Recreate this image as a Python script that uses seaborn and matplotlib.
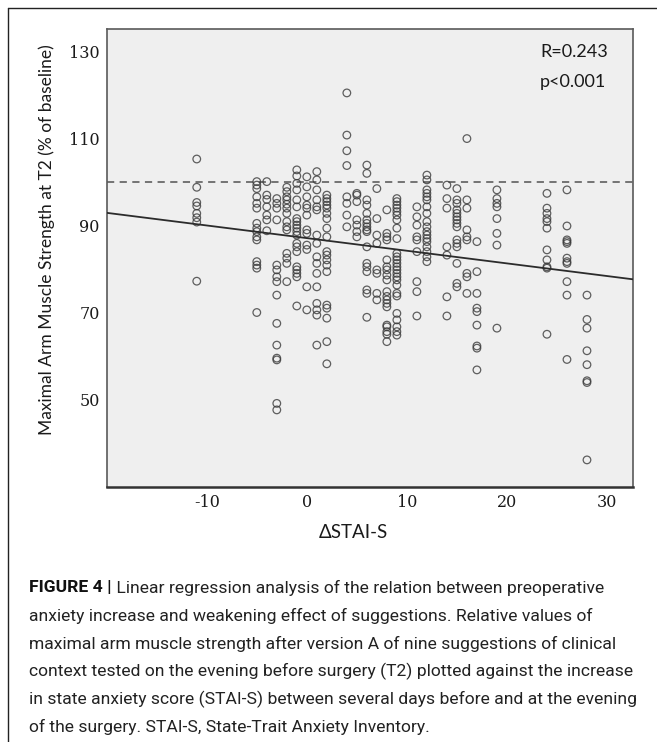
import numpy as np
import pandas as pd
import matplotlib
matplotlib.use("Agg")
import matplotlib.pyplot as plt
import seaborn as sns

# ---- data: ΔSTAI-S columns and strength values (% of baseline) ----
col_m11 = [105.3, 98.8, 95.3, 94.5, 92.8, 91.8, 90.8, 77.2]
col_m5 = [100.1, 99.3, 98.5, 96.6, 95.1, 94.0, 90.5, 89.4, 88.6, 87.4, 86.7, 81.7, 80.9, 80.2, 70.0]
col_m4 = [100.1, 97.0, 96.0, 94.3, 92.4, 91.3, 88.8]
col_m3 = [96.2, 95.1, 94.0, 91.3, 80.9, 79.8, 78.2, 77.1, 74.0, 67.5, 62.5, 59.5, 59.1, 49.1, 47.6]
col_m2 = [98.8, 97.8, 96.6, 95.9, 94.9, 94.0, 92.8, 90.9, 89.7, 89.0, 83.6, 82.5, 81.3, 77.1]
col_m1 = [102.8, 101.4, 99.7, 98.2, 95.9, 94.3, 91.6, 90.9, 90.1, 89.4, 88.6, 87.8, 85.9, 85.1, 84.0,
          80.5, 79.8, 79.0, 78.2, 71.5]
col_0 = [101.2, 98.9, 96.6, 94.7, 94.0, 92.4, 89.0, 88.2, 85.5, 84.5, 75.9, 70.6]
col_1 = [102.4, 100.5, 98.2, 95.9, 94.3, 93.6, 87.8, 85.9, 82.8, 81.3, 79.0, 75.9, 72.1, 70.6, 69.4, 62.5]
col_2 = [97.0, 96.2, 95.5, 94.7, 94.0, 92.8, 91.6, 89.4, 87.4, 84.0, 83.2, 82.1, 80.9, 79.4,
         71.7, 71.0, 68.7, 63.3, 58.2]
col_4 = [120.5, 110.8, 107.2, 103.8, 96.6, 95.1, 92.4, 89.7]
col_5 = [97.4, 97.0, 95.5, 91.3, 90.1, 88.6, 87.4]
col_6 = [103.9, 102.0, 95.9, 94.7, 92.8, 91.3, 90.5, 89.7, 89.0, 88.6, 85.1, 81.3, 80.5, 79.4,
         75.2, 74.4, 68.9]
col_7 = [98.5, 91.6, 87.8, 85.9, 79.8, 79.0, 74.4, 72.9]
col_8 = [93.6, 88.2, 87.4, 86.7, 82.1, 80.5, 79.8, 78.6, 77.5, 74.8, 73.7, 72.9, 72.1, 71.3,
         67.1, 66.7, 65.6, 65.0, 63.3]
col_9 = [96.2, 95.5, 94.7, 94.0, 93.2, 92.4, 91.3, 89.4, 87.0, 83.6, 82.8, 82.1, 81.3, 80.5, 79.8,
         79.0, 78.2, 77.5, 76.3, 74.4, 73.8, 69.8, 68.3, 66.7, 65.6, 64.8]
col_11 = [94.3, 92.0, 90.1, 87.4, 86.7, 84.0, 77.1, 74.8, 69.2]
col_12 = [101.6, 100.5, 98.2, 97.4, 96.6, 95.9, 94.3, 92.8, 90.9, 89.7, 88.6, 87.8, 87.0, 86.3,
          85.1, 84.0, 82.8, 81.7]
col_14 = [99.3, 96.2, 94.0, 85.1, 83.2, 73.6, 69.2]
col_15 = [98.5, 95.9, 95.1, 93.6, 92.8, 92.0, 91.3, 90.5, 89.7, 86.7, 85.9, 85.1, 81.3, 76.7, 75.9]
col_16 = [110.0, 95.9, 94.0, 89.0, 87.4, 86.7, 79.0, 78.2, 74.4]
col_17 = [86.3, 79.4, 74.4, 71.0, 70.2, 67.1, 62.3, 61.8, 56.8]
col_19 = [98.2, 96.2, 95.1, 94.3, 91.6, 88.2, 85.5, 66.4]
col_24 = [97.4, 94.0, 92.8, 91.6, 90.9, 89.4, 84.4, 82.1, 80.5, 80.2, 65.0]
col_26 = [98.2, 89.9, 86.7, 86.3, 85.9, 82.5, 81.7, 81.3, 77.1, 74.0, 59.2]
col_28 = [74.0, 68.4, 66.4, 61.2, 58.0, 54.3, 53.9, 36.1]

stai_levels = [-11, -5, -4, -3, -2, -1, 0, 1, 2, 4, 5, 6, 7, 8, 9, 11, 12, 14, 15, 16, 17, 19, 24, 26, 28]
strength_cols = [col_m11, col_m5, col_m4, col_m3, col_m2, col_m1, col_0, col_1, col_2, col_4, col_5,
                 col_6, col_7, col_8, col_9, col_11, col_12, col_14, col_15, col_16, col_17, col_19,
                 col_24, col_26, col_28]

x_ticks = [-10, 0, 10, 20, 30]
y_ticks = [50, 70, 90, 110, 130]
baseline_ref = 100
stats_text = ["R=0.243", "p<0.001"]
x_label = "\u0394STAI-S"
y_label = "Maximal Arm Muscle Strength at T2 (% of baseline)"
caption_bold = "FIGURE 4 |"
caption_lines = [
    " Linear regression analysis of the relation between preoperative",
    "anxiety increase and weakening effect of suggestions. Relative values of",
    "maximal arm muscle strength after version A of nine suggestions of clinical",
    "context tested on the evening before surgery (T2) plotted against the increase",
    "in state anxiety score (STAI-S) between several days before and at the evening",
    "of the surgery. STAI-S, State-Trait Anxiety Inventory.",
]

rows = []
for lvl, vals in zip(stai_levels, strength_cols):
    for v in vals:
        rows.append((lvl, v))
df = pd.DataFrame(rows, columns=["dstai", "strength"])

# ---- figure ----
sns.set_theme(style="white")
plt.rcParams["font.family"] = ["Lato", "DejaVu Sans"]

W, H = 657, 742
fig = plt.figure(figsize=(W / 100, H / 100), dpi=100)
ax = fig.add_axes([106.7 / W, 1 - 487.3 / H, (633 - 106.7) / W, (487.3 - 29) / H])
ax.set_facecolor("#efefef")

ax.set_xlim(-20, 32.6)
ax.set_ylim(29.8, 135.2)

sns.scatterplot(data=df, x="dstai", y="strength", ax=ax, s=30, marker="o",
                fc="none", ec="#3a3a3a", linewidth=0.9, alpha=0.8, zorder=3)
sns.regplot(data=df, x="dstai", y="strength", ax=ax, scatter=False, ci=None,
            truncate=False, line_kws=dict(color="#2b2b2b", lw=1.3, zorder=4))
ax.axhline(baseline_ref, color="#6a6a6a", lw=1.3, ls=(0, (4, 3)), zorder=2)

ax.set_xticks(x_ticks)
ax.set_yticks(y_ticks)
ax.set_xticklabels([str(t) for t in x_ticks], fontfamily="DejaVu Serif", fontsize=11.5)
ax.set_yticklabels([str(t) for t in y_ticks], fontfamily="DejaVu Serif", fontsize=11.5)
ax.tick_params(axis="both", direction="out", length=3, width=1, color="#555555",
               labelcolor="#1a1a1a", pad=2)
ax.set_xlabel("")
ax.set_ylabel("")
for side in ["left", "bottom", "right", "top"]:
    ax.spines[side].set_color("#5a5a5a")
    ax.spines[side].set_linewidth(1.2)
ax.spines["bottom"].set_color("#333333")
ax.spines["bottom"].set_linewidth(1.8)

ax.text(540 / W, 1 - 52 / H, stats_text[0], transform=fig.transFigure, fontsize=13,
        family=["Lato", "DejaVu Sans"], color="#1a1a1a", va="center", ha="left")
ax.text(540 / W, 1 - 82 / H, stats_text[1], transform=fig.transFigure, fontsize=13,
        family=["Lato", "DejaVu Sans"], color="#1a1a1a", va="center", ha="left")

fig.text(353 / W, 1 - 533 / H, x_label, fontsize=13.5, family=["Lato", "DejaVu Sans"],
         ha="center", va="center", color="#1a1a1a")
fig.text(47 / W, 1 - 240 / H, y_label, fontsize=12.5, family=["Lato", "DejaVu Sans"],
         rotation=90, ha="center", va="center", color="#1a1a1a")

# frame lines
fig.add_artist(plt.Line2D([7.5 / W, 7.5 / W], [0, 1 - 8 / H], transform=fig.transFigure,
                          color="#222222", lw=1.0))
fig.add_artist(plt.Line2D([7.5 / W, 1], [1 - 8 / H, 1 - 8 / H], transform=fig.transFigure,
                          color="#222222", lw=1.0))

# caption
cap_font = ["Liberation Sans Narrow", "Roboto", "DejaVu Sans"]
cap_x = 29 / W
line_y0 = 588
line_dy = 27.8
tb = fig.text(cap_x, 1 - line_y0 / H, caption_bold, fontsize=12.6, fontweight="bold",
              family=cap_font, va="center", ha="left", color="#111111")
fig.canvas.draw()
bb = tb.get_window_extent()
x_after = bb.x1 / W
fig.text(x_after, 1 - line_y0 / H, caption_lines[0], fontsize=12.6, family=cap_font,
         va="center", ha="left", color="#222222")
for i, ln in enumerate(caption_lines[1:], start=1):
    fig.text(cap_x, 1 - (line_y0 + i * line_dy) / H, ln, fontsize=12.6, family=cap_font,
             va="center", ha="left", color="#222222")

fig.savefig("out.png", dpi=100, facecolor="white")
